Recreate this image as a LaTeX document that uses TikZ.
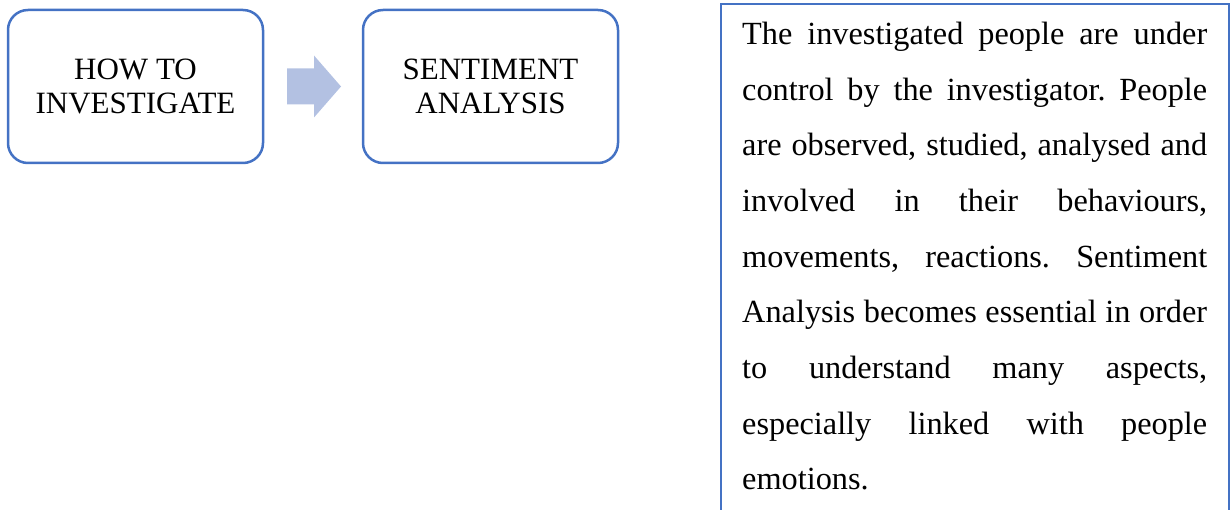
\documentclass[tikz,border=0pt]{standalone}
\usepackage{fontspec}
\setmainfont{Liberation Serif}
\usetikzlibrary{calc}
\definecolor{accentblue}{HTML}{4472C4}
\definecolor{arrowblue}{HTML}{B3C1E2}
\begin{document}
\frenchspacing
\begin{tikzpicture}[x=1pt,y=-1pt,
  stepbox/.style={draw=accentblue, line width=2.5pt, rounded corners=20pt,
    minimum width=255pt, minimum height=153pt, inner sep=0pt, align=center,
    font=\fontsize{31}{33.3}\selectfont},
  blockarrow/.style={fill=arrowblue, draw=none},
  frame/.style={draw=accentblue, line width=2pt},
  desc/.style={anchor=base west, inner sep=0pt, text width=465pt, align=justify,
    font=\fontsize{32.3}{55.7}\selectfont}]
  \useasboundingbox (0,0) rectangle (1231,510);

  % the two steps
  \node[stepbox] (how) at (135.5,86.5) {HOW TO\\INVESTIGATE};
  \node[stepbox] (sa)  at (490.5,86.5) {SENTIMENT\\ANALYSIS};

  % block arrow between the steps
  \coordinate (mid) at ($(how.east)!0.5!(sa.west)+(1,0)$);
  \fill[blockarrow] ($(mid)+(-27,-18)$) -- ($(mid)+(0,-18)$) -- ($(mid)+(0,-31)$)
     -- ($(mid)+(27,0)$) -- ($(mid)+(0,31)$) -- ($(mid)+(0,18)$)
     -- ($(mid)+(-27,18)$) -- cycle;

  % description, in a frame open at the bottom
  \draw[frame] (721,520) -- (721,4) -- (1229,4) -- (1229,520);
  \node[desc] (text) at (742,44.4) {\frenchspacing\tolerance=10000\hbadness=10000
    The investigated people are under\linebreak
    control by the investigator. People\linebreak
    are observed, studied, analysed and\linebreak
    involved in their behaviours,\linebreak
    movements, reactions. Sentiment\linebreak
    Analysis becomes essential in order\linebreak
    to understand many aspects,\linebreak
    especially linked with people\linebreak
    emotions.};
\end{tikzpicture}
\end{document}
